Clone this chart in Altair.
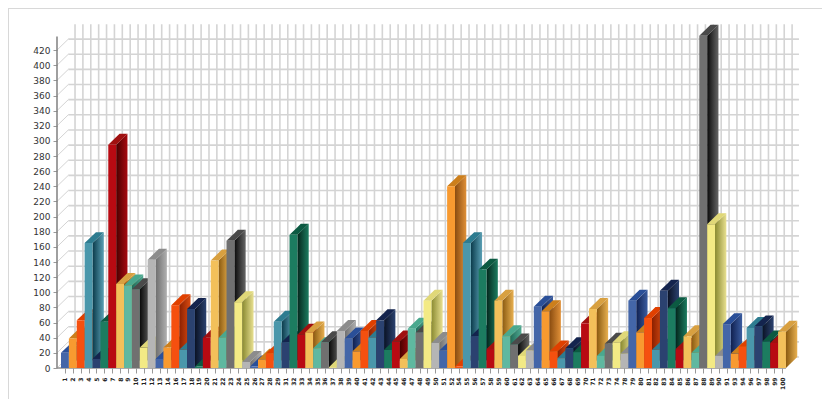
import json
import altair as alt
import pandas as pd

categories = [1,2,3,4,5,6,7,8,9,10,11,12,13,14,16,17,18,19,20,21,22,23,24,25,26,27,28,29,
              31,32,33,34,35,36,37,38,39,40,41,42,43,44,45,46,47,48,49,50,51,52,
              54,55,56,57,58,59,60,61,62,63,64,65,66,67,68,69,70,71,72,73,74,
              78,79,80,81,82,83,84,85,86,87,88,89,90,91,93,94,96,97,98,99,100]
values = [20,39,63,165,12,61,295,111,109,104,27,143,12,27,83,24,78,2,40,142,40,168,87,8,2,11,19,
          61,34,176,44,47,26,34,1,49,39,22,49,40,63,24,35,12,52,47,89,33,23,240,2,165,42,130,25,89,
          42,31,16,23,81,75,22,13,26,21,59,78,16,32,34,19,89,47,66,24,102,79,25,42,20,439,190,16,58,
          19,28,53,55,35,33,48]
y_ticks = list(range(0, 421, 20))

# front, top, side-dark, side-light
front_colors = ["#4466a8","#f89a30","#f5500f","#4a97ab","#2b4270","#1c7c60","#b80a12","#f3c05a","#5fb8a0","#707070","#f3ea85","#b5b5b5"]
top_colors   = ["#2a4f98","#cc7f1c","#e04000","#2e7c90","#14244e","#0c5a42","#a01010","#d8a040","#4aa88e","#4a4a4a","#e0d878","#8c8c8c"]
side_dark    = ["#10204f","#8a4c10","#8a2000","#0a3a4a","#0a1224","#04261c","#4a0000","#8a5a10","#1f6a58","#0a0a0a","#8a8a30","#6e6e6e"]
side_light   = ["#3a5ca0","#e09038","#d84a10","#5aa0b5","#2b4270","#1c7c60","#a80a10","#e8b050","#50a890","#666666","#e8e090","#b0b0b0"]

W, H = 814, 391
DEPTH_X = 1.434
DEPTH_Y = 14.5
DOM_X = [-6.726, 96.574]
DOM_Y = [-40.95, 475.6]
AXIS_P = -0.508
xs = alt.Scale(domain=DOM_X, nice=False, zero=False)
ys = alt.Scale(domain=DOM_Y, nice=False, zero=False)
X = lambda f: alt.X(f, type="quantitative", scale=xs, title=None)
Y = lambda f: alt.Y(f, type="quantitative", scale=ys, title=None)
GRID = "#d4d4d4"
FONT = "DejaVu Sans"

layers = []

# axes
tick_pos = [i + 0.5 for i in range(len(categories))]
label_expr = "%s[datum.value - 0.5]" % json.dumps([str(c) for c in categories])
axis_df = pd.DataFrame({"x": [0.0, 1.0], "y": [0.0, 1.0]})
layers.append(
    alt.Chart(axis_df).mark_point(opacity=0).encode(
        x=alt.X("x:Q", scale=xs, title=None, axis=alt.Axis(
            orient="bottom", offset=-31, values=tick_pos, tickCount=500, labelExpr=label_expr, domain=False, grid=False,
            tickColor="#999999", tickSize=5, labelAngle=270, labelAlign="right", labelBaseline="middle",
            labelPadding=4, labelFont=FONT, labelFontSize=6, labelFontWeight="bold", labelColor="#222222",
            labelFlush=False, title=None)),
        y=alt.Y("y:Q", scale=ys, title=None, axis=alt.Axis(
            orient="left", offset=-49, values=y_ticks, tickCount=500, domain=False, grid=False,
            tickColor="#999999", tickSize=4, labelPadding=3, labelFont=FONT, labelFontSize=9,
            labelColor="#333333", labelFlush=False, title=None)),
    )
)

# back wall and side-wall grid
hgrid = pd.DataFrame({"x": AXIS_P + DEPTH_X, "x2": 93.65, "y": [v + DEPTH_Y for v in y_ticks]})
layers.append(alt.Chart(hgrid).mark_rule(color=GRID, strokeWidth=1.6).encode(x=X("x"), x2="x2", y=Y("y")))
vgrid = pd.DataFrame({"x": [1.78 + k for k in range(len(categories))], "y": DEPTH_Y, "y2": 454.0})
layers.append(alt.Chart(vgrid).mark_rule(color=GRID, strokeWidth=1.6).encode(x=X("x"), y=Y("y"), y2="y2"))
diag = pd.DataFrame({"x": AXIS_P, "x2": AXIS_P + DEPTH_X, "y": y_ticks, "y2": [v + DEPTH_Y for v in y_ticks]})
layers.append(alt.Chart(diag).mark_rule(color=GRID, strokeWidth=1).encode(x=X("x"), x2="x2", y=Y("y"), y2="y2"))

# axis lines
layers.append(alt.Chart(pd.DataFrame({"x": [AXIS_P], "y": [0.0], "y2": [438.0]})).mark_rule(color="#808080", strokeWidth=1.5)
              .encode(x=X("x"), y=Y("y"), y2="y2"))
layers.append(alt.Chart(pd.DataFrame({"x": [AXIS_P], "x2": [92.0], "y": [0.0]})).mark_rule(color="#909090", strokeWidth=1.5)
              .encode(x=X("x"), x2="x2", y=Y("y")))

# side and top faces, painted from left to right
for p, v in enumerate(values):
    c = p % 12
    side = pd.DataFrame({"x": [p + 1, p + 1 + DEPTH_X], "y": [v, v + DEPTH_Y], "y2": [0, DEPTH_Y]})
    grad = alt.Gradient(gradient="linear", x1=0, x2=1, y1=0, y2=0,
                        stops=[alt.GradientStop(color=side_dark[c], offset=0),
                               alt.GradientStop(color=side_light[c], offset=1)])
    layers.append(alt.Chart(side).mark_area(fill=grad, interpolate="linear").encode(x=X("x"), y=Y("y"), y2="y2"))
    d, D = DEPTH_X, DEPTH_Y
    top = pd.DataFrame({"x": [p, p + 1, p + d, p + 1 + d],
                        "y": [v, v + D / d, v + D, v + D],
                        "y2": [v, v, v + D * (d - 1) / d, v + D]})
    layers.append(alt.Chart(top).mark_area(fill=top_colors[c], interpolate="linear").encode(x=X("x"), y=Y("y"), y2="y2"))

# front faces
front = pd.DataFrame({"x": list(range(len(values))), "x2": [i + 1 for i in range(len(values))], "v": values,
                      "base": [0] * len(values), "c": [front_colors[i % 12] for i in range(len(values))]})
layers.append(alt.Chart(front).mark_rect().encode(
    x=X("x"), x2="x2", y=Y("v"), y2="base", fill=alt.Fill("c:N", scale=None, legend=None)))

# frame of the picture
layers.append(alt.Chart(pd.DataFrame({"a": [0]})).mark_rule(color="#d8d8d8", strokeWidth=1).encode(
    x=alt.value(0), x2=alt.value(W), y=alt.value(0.5)))
layers.append(alt.Chart(pd.DataFrame({"a": [0]})).mark_rule(color="#d8d8d8", strokeWidth=1).encode(
    x=alt.value(0.5), y=alt.value(0), y2=alt.value(H)))

chart = alt.layer(*layers).properties(
    width=W, height=H, padding=0, autosize=alt.AutoSizeParams(type="none"),
).configure_view(stroke=None).configure_axis(labelOverlap=False)

chart.save("out.html", embed_options={"renderer": "svg", "actions": False})
